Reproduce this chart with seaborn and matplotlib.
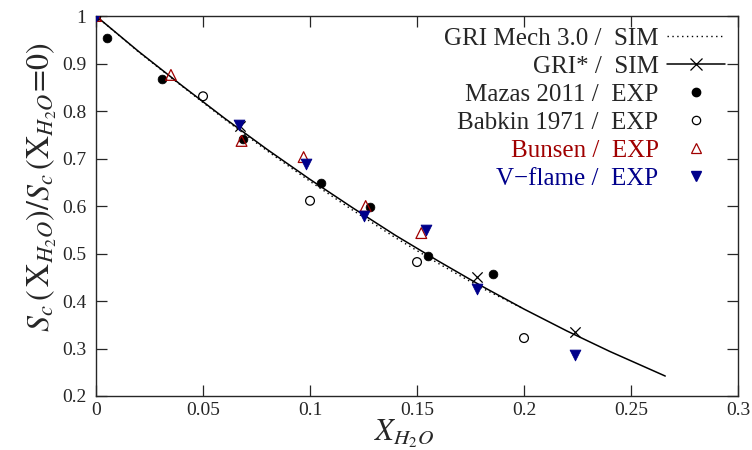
import matplotlib
matplotlib.use("Agg")
import matplotlib.pyplot as plt
import seaborn as sns
from matplotlib.lines import Line2D

# simulation curves
gri_star_x = [0.0, 0.02, 0.04, 0.06, 0.08, 0.1, 0.12, 0.14, 0.16, 0.18, 0.2, 0.22, 0.24, 0.266]
gri_star_y = [1.0, 0.925, 0.854, 0.785, 0.719, 0.656, 0.596, 0.538, 0.484, 0.432, 0.383, 0.337, 0.294, 0.242]
gri_star_mark_x = [0.0, 0.0673, 0.178, 0.224]
gri_star_mark_y = [1.0, 0.768, 0.450, 0.335]

gri30_x = [0.0, 0.02, 0.04, 0.06, 0.08, 0.1, 0.12, 0.14, 0.16, 0.18, 0.2]
gri30_y = [1.0, 0.924, 0.853, 0.783, 0.716, 0.652, 0.591, 0.533, 0.479, 0.428, 0.383]

# experiments
mazas_x = [0.0, 0.005, 0.031, 0.0687, 0.105, 0.128, 0.155, 0.1855]
mazas_y = [1.0, 0.953, 0.867, 0.741, 0.648, 0.598, 0.495, 0.457]

babkin_x = [0.0, 0.05, 0.1, 0.15, 0.2]
babkin_y = [1.0, 0.831, 0.611, 0.482, 0.322]

bunsen_x = [0.0, 0.035, 0.068, 0.097, 0.126, 0.152]
bunsen_y = [1.0, 0.876, 0.737, 0.703, 0.600, 0.543]

vflame_x = [0.0, 0.067, 0.098, 0.125, 0.154, 0.178, 0.224]
vflame_y = [1.0, 0.770, 0.688, 0.580, 0.549, 0.425, 0.287]

RED = "#a00000"
BLUE = "#00008b"

sns.set_style("ticks")
plt.rcParams["font.family"] = ["Liberation Serif", "DejaVu Serif"]
plt.rcParams["mathtext.fontset"] = "stix"

fig = plt.figure(figsize=(7.52, 4.5), dpi=100)
ax = fig.add_axes([0.1277, 0.12, 0.8537, 0.8444])

sns.lineplot(x=gri30_x, y=gri30_y, ax=ax, color="black", lw=1.0, linestyle=(0, (1, 2.5)))
sns.lineplot(x=gri_star_x, y=gri_star_y, ax=ax, color="black", lw=1.1)
sns.scatterplot(x=gri_star_mark_x, y=gri_star_mark_y, ax=ax, marker="x", color="black", s=55, linewidth=0.9)

sns.scatterplot(x=mazas_x, y=mazas_y, ax=ax, marker="o", color="black", s=40, edgecolor="black", zorder=4)
sns.scatterplot(x=babkin_x, y=babkin_y, ax=ax, marker="o", facecolor="none", edgecolor="black", s=40, linewidth=0.9, zorder=4)
sns.scatterplot(x=bunsen_x, y=bunsen_y, ax=ax, marker="^", facecolor="none", edgecolor=RED, s=60, linewidth=0.9, zorder=4)
sns.scatterplot(x=vflame_x, y=vflame_y, ax=ax, marker="v", color=BLUE, edgecolor=BLUE, s=60, zorder=5)

ax.set_xlim(0, 0.3)
ax.set_ylim(0.2, 1.0)
ax.set_xticks([0, 0.05, 0.1, 0.15, 0.2, 0.25, 0.3])
ax.set_xticklabels(["0", "0.05", "0.1", "0.15", "0.2", "0.25", "0.3"])
ax.set_yticks([0.2, 0.3, 0.4, 0.5, 0.6, 0.7, 0.8, 0.9, 1.0])
ax.set_yticklabels(["0.2", "0.3", "0.4", "0.5", "0.6", "0.7", "0.8", "0.9", "1"])
ax.tick_params(direction="in", length=8, width=0.9, top=True, right=True, labelsize=14)
ax.tick_params(axis="x", pad=4)
ax.tick_params(axis="y", pad=7)
for s in ax.spines.values():
    s.set_linewidth(1.0)
    s.set_visible(True)

ax.set_xlabel(r"$X_{H_2O}$", fontsize=22)
ax.xaxis.set_label_coords(0.48, -0.058)
ax.set_ylabel(r"$S_c\,(\,\mathrm{X}_{H_2O})/S_c\,(\mathrm{X}_{H_2O}\!=\!0)$", fontsize=23)
ax.yaxis.set_label_coords(-0.057, 0.55)

handles = [
    Line2D([], [], color="black", lw=1.0, linestyle=(0, (1, 2.5))),
    Line2D([], [], color="black", lw=1.1, marker="x", markersize=8, markeredgewidth=0.9),
    Line2D([], [], color="black", lw=0, marker="o", markersize=6),
    Line2D([], [], color="black", lw=0, marker="o", markersize=6, markerfacecolor="none", markeredgewidth=0.9),
    Line2D([], [], color=RED, lw=0, marker="^", markersize=7, markerfacecolor="none", markeredgewidth=0.9),
    Line2D([], [], color=BLUE, lw=0, marker="v", markersize=7),
]
labels = ["GRI Mech 3.0 /  SIM", "GRI* /  SIM", "Mazas 2011 /  EXP",
          "Babkin 1971 /  EXP", "Bunsen /  EXP", "V\u2212flame /  EXP"]
leg = ax.legend(handles, labels, loc="upper right", frameon=False, markerfirst=False,
                fontsize=18, handlelength=2.3, labelspacing=0.22, borderaxespad=0.05,
                handletextpad=0.35, bbox_to_anchor=(0.997, 1.0))
for t in leg.get_texts():
    t.set_ha("right")
leg.get_texts()[4].set_color(RED)
leg.get_texts()[5].set_color(BLUE)

fig.savefig("out.png", dpi=100)
